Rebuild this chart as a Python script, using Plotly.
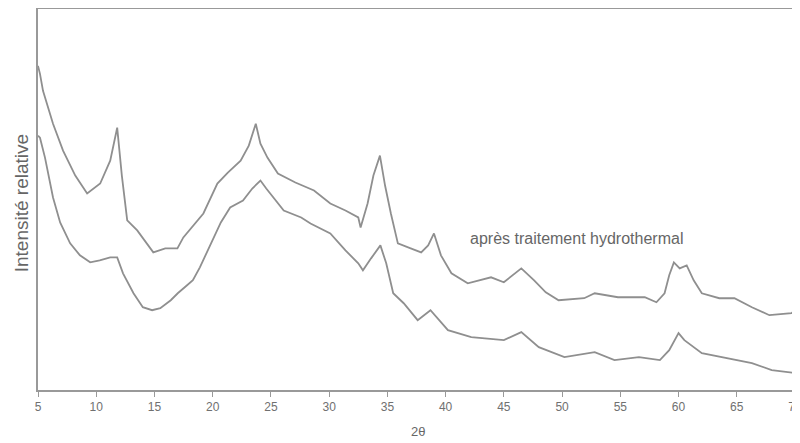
import plotly.graph_objects as go

# 2-theta positions and relative intensities (arbitrary units)
two_theta_upper = [5.0, 5.17, 5.43, 6.29, 7.15, 8.2, 9.22, 10.34, 11.2, 11.8, 12.2, 12.66,
                   13.52, 14.9, 15.93, 16.97, 17.48, 18.3, 19.2, 20.4, 21.3, 22.4, 23.1,
                   23.7, 24.1, 24.7, 25.6, 27.1, 28.7, 30.1, 31.4, 32.5, 32.7, 33.3, 33.8,
                   34.36, 34.8, 35.3, 35.9, 37.0, 37.9, 38.5, 39.0, 39.6, 40.5, 41.9, 43.9,
                   45.0, 45.8, 46.5, 47.6, 48.6, 49.7, 51.9, 52.8, 54.8, 57.1, 58.1, 58.8,
                   59.2, 59.6, 60.1, 60.7, 61.3, 62.0, 63.5, 64.8, 66.3, 67.8, 69.7, 70.0]
intensity_upper = [325, 317, 300, 267, 240, 215, 197, 207, 230, 263, 215, 170,
                   160, 138, 142, 142, 153, 165, 177, 207, 218, 230, 245,
                   267, 247, 233, 217, 208, 200, 187, 180, 173, 163, 187, 215,
                   235, 205, 177, 147, 142, 138, 145, 157, 135, 117, 107, 113,
                   108, 115, 122, 110, 98, 90, 92, 97, 93, 93, 88, 97,
                   115, 128, 122, 125, 110, 97, 92, 92, 83, 75, 77, 80]

two_theta_lower = [5.0, 5.17, 5.6, 6.29, 6.9, 7.76, 8.6, 9.48, 10.3, 11.2, 11.8, 12.3,
                   13.2, 14.0, 14.8, 15.5, 16.4, 17.0, 17.7, 18.3, 18.9, 19.8, 20.7,
                   21.5, 22.6, 23.4, 24.1, 24.6, 25.2, 26.1, 27.6, 28.4, 30.1, 31.4,
                   32.5, 32.9, 33.6, 34.4, 34.9, 35.5, 36.4, 37.6, 38.7, 40.2, 42.2,
                   45.0, 46.5, 48.0, 50.2, 52.8, 54.5, 56.6, 58.4, 59.2, 60.0, 60.5,
                   62.0, 64.8, 66.3, 68.0, 70.0]
intensity_lower = [255, 253, 233, 193, 168, 147, 135, 128, 130, 133, 133, 117,
                   97, 83, 80, 82, 90, 97, 104, 110, 123, 145, 168,
                   183, 190, 202, 210, 202, 193, 180, 173, 167, 157, 140,
                   127, 120, 132, 145, 127, 97, 87, 70, 80, 60, 53,
                   50, 58, 43, 33, 38, 30, 33, 30, 40, 57, 50,
                   37, 30, 27, 20, 17]

x_ticks = list(range(5, 71, 5))

line_color = "#8f8f8f"
text_color = "#666666"

fig = go.Figure()
fig.add_trace(go.Scatter(x=two_theta_upper, y=intensity_upper, mode="lines",
                         line=dict(color=line_color, width=1.8), showlegend=False))
fig.add_trace(go.Scatter(x=two_theta_lower, y=intensity_lower, mode="lines",
                         line=dict(color=line_color, width=1.8), showlegend=False))

fig.add_annotation(x=51.2, y=152, text="après traitement hydrothermal", showarrow=False,
                   font=dict(size=16, color=text_color))
# axis titles placed by hand so the plot area keeps the reference margins
fig.add_annotation(xref="paper", yref="paper", x=0.502, y=-0.11, yanchor="middle",
                   text="2θ", showarrow=False, font=dict(size=13, color=text_color))
fig.add_annotation(xref="paper", yref="paper", x=-0.0225, y=0.49, xanchor="center",
                   text="Intensité relative", textangle=-90, showarrow=False,
                   font=dict(size=19, color=text_color))

# the page body adds an 8px offset, so the figure is 8px smaller than the window
fig.update_layout(
    width=792, height=435,
    margin=dict(l=30, r=5, t=1, b=53),
    plot_bgcolor="white", paper_bgcolor="white",
    font=dict(family="Liberation Sans, Arial, sans-serif", color="#707070", size=12),
    xaxis=dict(range=[5, 70], tickvals=x_ticks, ticks="outside", ticklen=5,
               tickcolor="#999999", showgrid=False, zeroline=False, automargin=False,
               ticklabeloverflow="allow",
               showline=True, linecolor="#999999", linewidth=2, mirror=True),
    yaxis=dict(range=[0, 382], showticklabels=False, ticks="", showgrid=False,
               zeroline=False, automargin=False, showline=True, linecolor="#999999",
               linewidth=2, mirror=True),
)

fig.write_html("out.html")
